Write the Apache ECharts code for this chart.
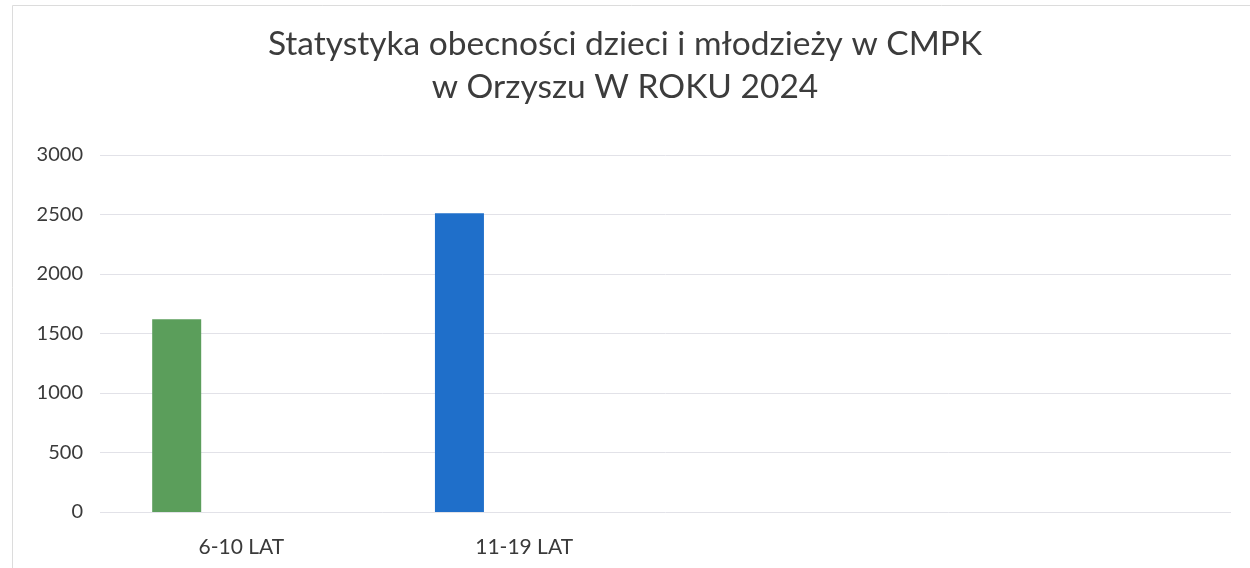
<!DOCTYPE html>
<html>
<head>
<meta charset="utf-8">
<script src="https://cdn.jsdelivr.net/npm/echarts@6/dist/echarts.min.js"></script>
<style>
  html, body { margin: 0; padding: 0; background: #fff; }
  #chart { width: 1250px; height: 568px; }
</style>
</head>
<body>
<div id="chart"></div>
<script>
// dane z wykresu
var categories = ['6-10 LAT', '11-19 LAT', '', ''];
var obecnosc = [1620, 2510, '-', '-'];
var barColors = ['#5b9e5b', '#1f6fca'];
var yTicks = [0, 500, 1000, 1500, 2000, 2500, 3000];

var myChart = echarts.init(document.getElementById('chart'));

var font = 'Lato, "Open Sans", sans-serif';

var option = {
    backgroundColor: '#fff',
    animation: false,
    title: {
        text: 'Statystyka obecności dzieci i młodzieży w CMPK\nw Orzyszu W ROKU 2024',
        left: 'center',
        top: 18,
        textStyle: {
            fontFamily: font,
            fontWeight: 'normal',
            fontSize: 33.5,
            lineHeight: 43,
            color: '#3c3c3c'
        }
    },
    graphic: [{
        type: 'rect',
        left: 10,
        top: 3,
        shape: { width: 1260, height: 600 },
        style: { fill: 'none', stroke: '#dcdcdc', lineWidth: 1 },
        silent: true
    }],
    grid: {
        left: 100,
        right: 19,
        top: 155,
        bottom: 56
    },
    xAxis: {
        type: 'category',
        data: categories,
        axisLine: { show: false },
        axisTick: { show: false },
        axisLabel: {
            margin: 25,
            fontFamily: font,
            fontSize: 21,
            color: '#3a3a3a'
        }
    },
    yAxis: {
        type: 'value',
        min: yTicks[0],
        max: yTicks[yTicks.length - 1],
        interval: 500,
        axisLine: { show: false },
        axisTick: { show: false },
        splitLine: { lineStyle: { color: '#e2e2e8', width: 1 } },
        axisLabel: {
            margin: 17,
            fontFamily: font,
            fontSize: 20,
            color: '#3a3a3a',
            formatter: function (v) { return String(v); }
        }
    },
    series: [
        {
            type: 'bar',
            barWidth: 49,
            barGap: '32%',
            data: obecnosc.map(function (v, i) {
                return { value: v, itemStyle: { color: barColors[i] || '#888' } };
            })
        },
        { type: 'bar', barWidth: 49, data: ['-', '-', '-', '-'] },
        { type: 'bar', barWidth: 49, data: ['-', '-', '-', '-'] }
    ]
};

myChart.setOption(option);
</script>
</body>
</html>
